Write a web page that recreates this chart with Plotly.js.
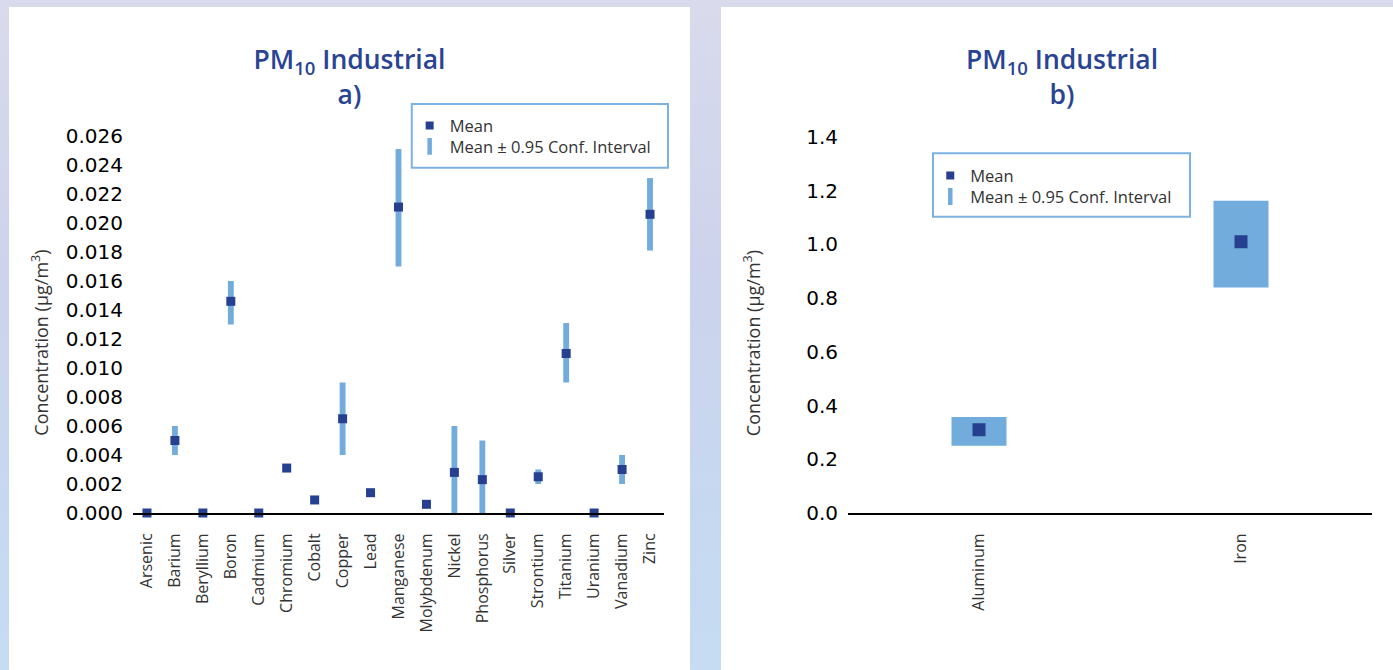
<!DOCTYPE html>
<html>
<head>
<meta charset="utf-8">
<script src="https://cdn.plot.ly/plotly-3.0.1.min.js"></script>
<style>
  html, body { margin: 0; padding: 0; width: 1393px; height: 670px; overflow: hidden; }
  body { background: linear-gradient(180deg, #d9dbec 0%, #cdd3ec 40%, #c6d8f0 75%, #c5dcf3 100%); position: relative; }
  #chartA { position: absolute; left: 9px; top: 7px; width: 681px; height: 663px; background: #fff; }
  #chartB { position: absolute; left: 721px; top: 7px; width: 672px; height: 663px; background: #fff; }
</style>
</head>
<body>
<div id="chartA"></div>
<div id="chartB"></div>
<script>
// ---- Panel a data ----
const elementsA = ['Arsenic','Barium','Beryllium','Boron','Cadmium','Chromium','Cobalt','Copper','Lead','Manganese','Molybdenum','Nickel','Phosphorus','Silver','Strontium','Titanium','Uranium','Vanadium','Zinc'];
const meanA = [0, 0.005, 0, 0.0146, 0, 0.0031, 0.0009, 0.0065, 0.0014, 0.0211, 0.0006, 0.0028, 0.0023, 0, 0.0025, 0.011, 0, 0.003, 0.0206];
const lowA  = [null, 0.004, null, 0.013, null, null, null, 0.004, null, 0.017, null, 0, 0, null, 0.002, 0.009, null, 0.002, 0.0181];
const highA = [null, 0.006, null, 0.016, null, null, null, 0.009, null, 0.0251, null, 0.006, 0.005, null, 0.003, 0.0131, null, 0.004, 0.0231];
const ticksA = ['0.000','0.002','0.004','0.006','0.008','0.010','0.012','0.014','0.016','0.018','0.020','0.022','0.024','0.026'];

// ---- Panel b data ----
const elementsB = ['Aluminum','Iron'];
const meanB = [0.31, 1.01];
const lowB  = [0.25, 0.84];
const highB = [0.357, 1.163];
const ticksB = ['0.0','0.2','0.4','0.6','0.8','1.0','1.2','1.4'];

const legendLabels = ['Mean', 'Mean ± 0.95 Conf. Interval'];

const MEAN_COLOR = '#263f8f';
const CI_COLOR = '#72acdc';
const TITLE_COLOR = '#2a4494';
const FONT = 'Open Sans, sans-serif';

function makeFigure(cfg) {
  const { cats, mean, low, high, ticks, yMax, panel, markerSize, legX, legY1, legY2, box, titleX, annX } = cfg;
  const ciTrace = {
    type: 'bar', x: cats,
    y: high.map((h, i) => (h === null || low[i] === null) ? null : h - low[i]),
    base: low, width: 0.21,
    marker: { color: CI_COLOR, line: { width: 0 } },
    showlegend: false, hoverinfo: 'skip', cliponaxis: false
  };
  const meanTrace = {
    type: 'scatter', mode: 'markers', x: cats, y: mean,
    marker: { symbol: 'square', size: markerSize, color: MEAN_COLOR, line: { width: 0 } },
    showlegend: false, cliponaxis: false
  };
  const legMean = {
    type: 'scatter', mode: 'markers', x: [null], y: [null], name: legendLabels[0], legend: 'legend',
    marker: { symbol: 'square', size: 8, color: MEAN_COLOR, line: { width: 0 } }
  };
  const legCI = {
    type: 'scatter', mode: 'markers', x: [null], y: [null], name: legendLabels[1], legend: 'legend2',
    marker: { symbol: 'line-ns', size: 12, color: CI_COLOR, line: { width: 4.5, color: CI_COLOR } }
  };
  const tickvals = ticks.map(t => parseFloat(t));
  const legFont = { family: FONT, size: 16.5, color: '#333' };
  const layout = {
    width: panel === 'a' ? 681 : 672, height: 663,
    margin: panel === 'a' ? { l: 124, r: 26, t: 129, b: 157 } : { l: 127, r: 21, t: 130, b: 157 },
    paper_bgcolor: '#ffffff', plot_bgcolor: '#ffffff',
    showlegend: true,
    barmode: 'overlay',
    title: {
      text: 'PM<sub>10</sub> Industrial<br>' + panel + ')',
      font: { family: FONT, size: 26.5, color: TITLE_COLOR, weight: 600 },
      x: titleX, xref: 'container', xanchor: 'center',
      y: 0.906, yref: 'container', yanchor: 'top'
    },
    xaxis: {
      type: 'category', categoryorder: 'array', categoryarray: cats,
      range: [-0.5, cats.length - 0.5],
      showline: true, linecolor: '#000', linewidth: 2,
      showgrid: false, zeroline: false, ticks: '',
      tickangle: -90, ticklabelstandoff: 12,
      tickfont: { family: FONT, size: 16, color: '#333' },
      fixedrange: true
    },
    yaxis: {
      range: [0, yMax], showline: false, showgrid: false, zeroline: false,
      tickmode: 'array', tickvals: tickvals, ticktext: ticks, ticks: '',
      ticklabelstandoff: 9,
      tickfont: { family: 'DejaVu Sans, sans-serif', size: 20, color: '#000' },
      fixedrange: true
    },
    legend: {
      x: legX, xanchor: 'left', y: legY1, yanchor: 'middle',
      bgcolor: 'rgba(0,0,0,0)', borderwidth: 0, font: legFont
    },
    legend2: {
      x: legX, xanchor: 'left', y: legY2, yanchor: 'middle',
      bgcolor: 'rgba(0,0,0,0)', borderwidth: 0, font: legFont
    },
    shapes: [{
      type: 'rect', xref: 'paper', yref: 'paper',
      x0: box[0], x1: box[1], y0: box[2], y1: box[3],
      line: { color: '#7db2e0', width: 2 }, fillcolor: 'rgba(0,0,0,0)', layer: 'below'
    }],
    annotations: [{
      text: 'Concentration (µg/m<sup>3</sup>)', textangle: -90,
      xref: 'paper', yref: 'paper', x: annX, y: 0.452,
      xanchor: 'center', yanchor: 'middle', showarrow: false,
      font: { family: FONT, size: 18, color: '#333' }
    }]
  };
  return { data: [ciTrace, meanTrace, legMean, legCI], layout: layout };
}

const figA = makeFigure({
  cats: elementsA, mean: meanA, low: lowA, high: highA, ticks: ticksA, yMax: 0.026, panel: 'a', markerSize: 9,
  legX: 0.521, legY1: 1.0273, legY2: 0.9717, box: [0.525, 1.0075, 0.916, 1.085], titleX: 0.5, annX: -0.175
});
const figB = makeFigure({
  cats: elementsB, mean: meanB, low: lowB, high: highB, ticks: ticksB, yMax: 1.4, panel: 'b', markerSize: 13,
  legX: 0.157, legY1: 0.897, legY2: 0.841, box: [0.1622, 0.6527, 0.7876, 0.9567], titleX: 0.5075, annX: -0.183
});

Plotly.newPlot('chartA', figA.data, figA.layout, { displayModeBar: false, staticPlot: true });
Plotly.newPlot('chartB', figB.data, figB.layout, { displayModeBar: false, staticPlot: true });
</script>
</body>
</html>
